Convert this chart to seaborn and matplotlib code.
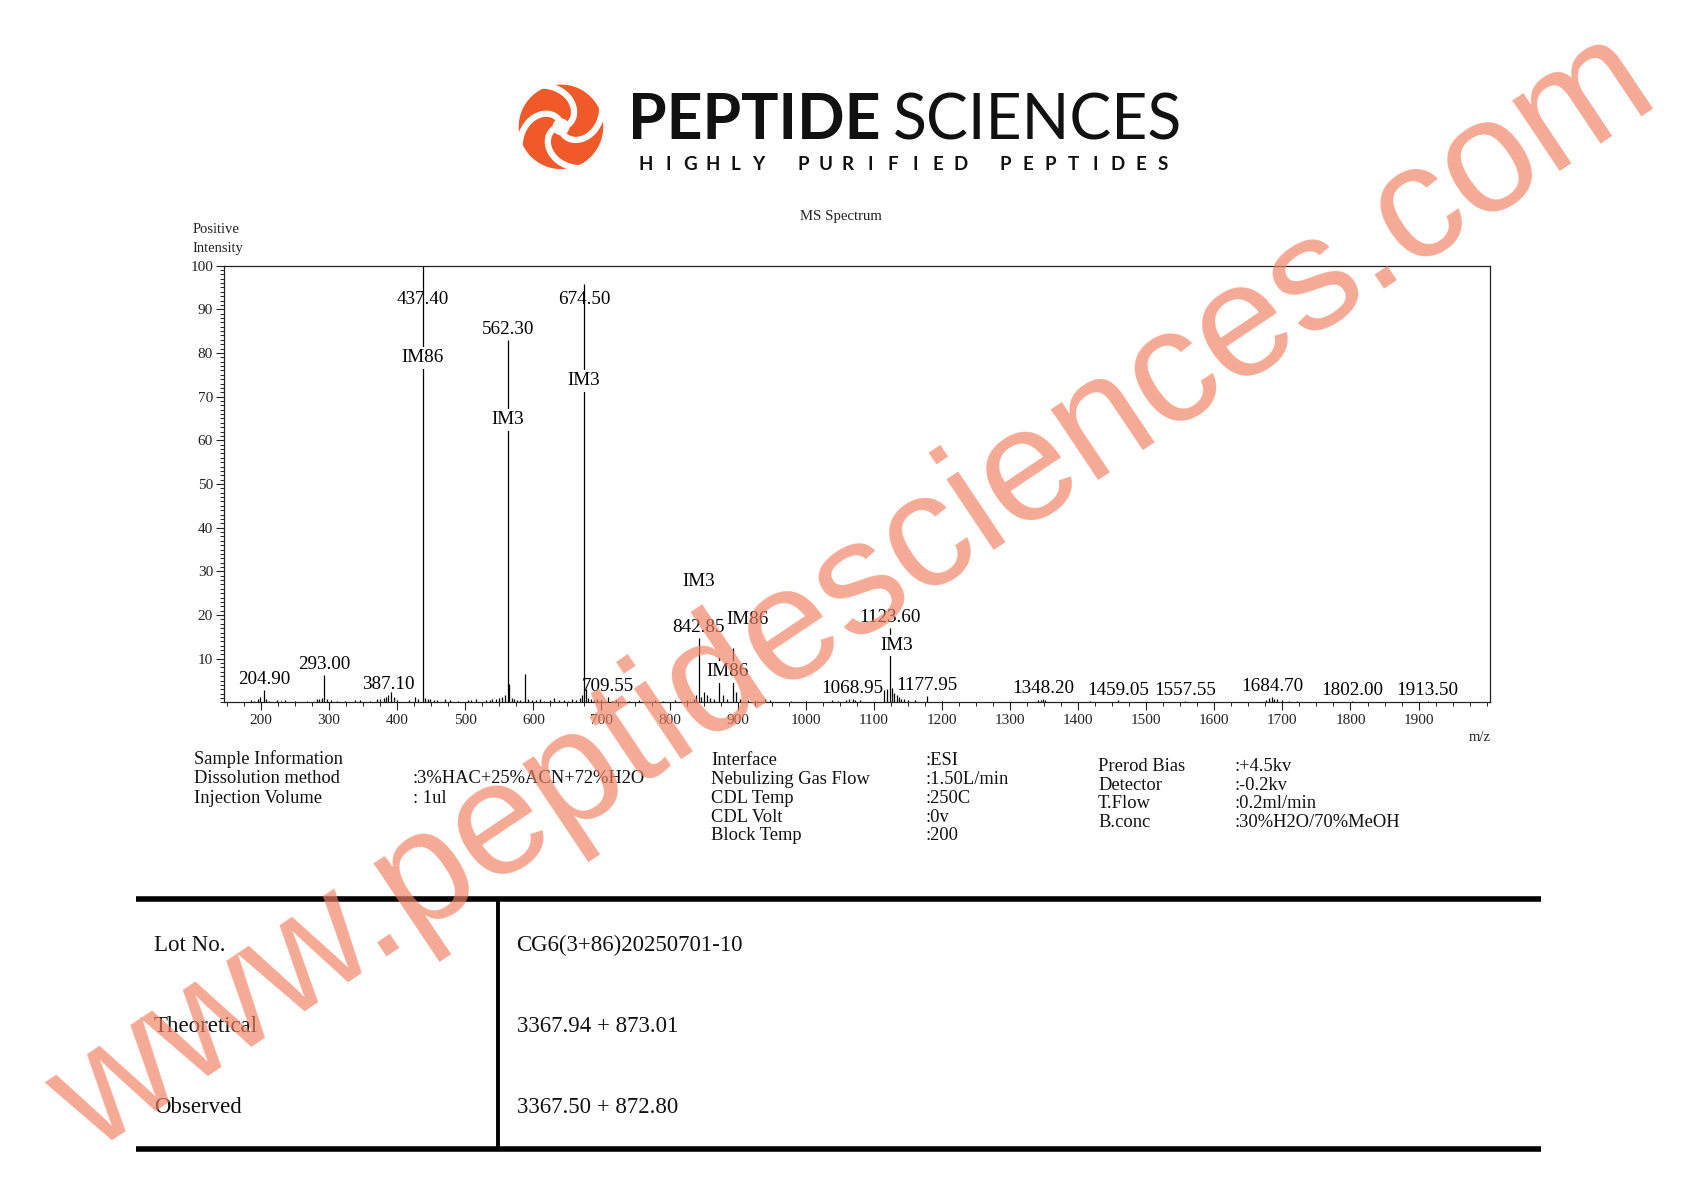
import numpy as np
import pandas as pd
import seaborn as sns
import matplotlib.pyplot as plt
from matplotlib.ticker import MultipleLocator
from matplotlib.patches import Circle
from matplotlib.lines import Line2D

# labelled peaks (m/z, relative intensity)
peak_mz = [204.90, 293.00, 387.10, 437.40, 562.30, 674.50, 709.55, 842.85, 1068.95,
           1123.60, 1177.95, 1348.20, 1459.05, 1557.55, 1684.70, 1802.00, 1913.50]
peak_int = [2.8, 6.3, 1.8, 100.0, 83.0, 95.8, 1.3, 14.7, 0.9,
            17.0, 1.5, 0.9, 0.5, 0.3, 1.2, 0.3, 0.3]

# unlabelled small peaks
minor_mz = [185, 190, 195, 199, 207, 212, 224, 230, 236, 250, 268, 282, 286, 290, 297, 303,
            312, 324, 338, 346, 360, 370, 375, 381, 384, 391, 395, 400, 418, 426, 431, 441,
            445, 449, 454, 458, 470, 477, 490, 504, 509, 516, 531, 536, 540, 545, 550, 554,
            558, 564.5, 568, 572, 576, 581, 587.5, 592, 598, 604, 610, 616, 624, 630, 638,
            645, 651, 657, 663, 668, 671, 677, 680, 684, 689, 694, 700, 715, 722, 740, 755,
            779, 790, 808, 825, 836, 839, 846, 850, 855, 860, 866, 873, 878, 885, 893, 897,
            903, 915, 925, 940, 948, 979, 1000, 1039, 1047, 1059, 1064, 1073, 1080, 1115,
            1119, 1127, 1130, 1134, 1137, 1140, 1145, 1150, 1161, 1200, 1225, 1260, 1341,
            1345, 1352, 1417, 1430, 1500, 1550, 1620, 1676, 1680, 1688, 1692, 1700, 1710,
            1722, 1800]
minor_int = [0.5, 0.4, 0.9, 1.2, 0.8, 0.3, 0.5, 0.4, 0.5, 0.3, 0.3, 0.7, 0.8, 1.0, 0.8, 0.5,
             0.4, 0.4, 0.5, 0.6, 0.3, 0.7, 0.9, 1.0, 1.3, 2.3, 1.2, 0.5, 0.5, 1.3, 0.8, 1.1,
             0.8, 0.7, 0.6, 0.5, 0.9, 0.6, 0.3, 0.6, 0.5, 0.7, 0.5, 0.6, 0.8, 0.7, 1.0, 1.2,
             1.6, 4.3, 1.0, 0.8, 0.6, 0.6, 6.4, 0.8, 0.6, 0.5, 0.7, 0.4, 0.5, 1.0, 0.6,
             0.5, 0.4, 0.7, 0.6, 1.0, 1.6, 3.0, 1.0, 0.8, 0.6, 0.7, 0.5, 0.4, 0.5, 0.3, 0.6,
             0.5, 0.4, 0.5, 0.6, 0.9, 1.7, 1.2, 2.4, 1.6, 1.0, 0.8, 10.5, 1.8, 0.9, 12.5, 2.5,
             0.9, 0.6, 0.4, 0.8, 0.6, 0.4, 0.4, 0.5, 0.4, 0.6, 0.7, 0.6, 0.5, 2.8,
             3.0, 3.2, 2.2, 1.8, 1.2, 0.9, 0.7, 0.5, 0.5, 0.3, 0.2, 0.2, 0.5,
             0.6, 0.5, 0.4, 0.2, 0.2, 0.2, 0.2, 0.6, 1.0, 0.9, 0.7, 0.5, 0.3,
             0.3, 0.2]

# ion annotations
ion_text = ["IM86", "IM3", "IM3", "IM3", "IM86", "IM86", "IM3"]
ion_mz = [437.4, 562.3, 674.5, 842.85, 914.0, 885.0, 1133.0]
ion_y = [78.9, 64.7, 73.6, 27.6, 19.0, 7.0, 13.0]

sample_keys = ["Sample Information", "Dissolution method", "Injection Volume"]
sample_vals = ["", ":3%HAC+25%ACN+72%H2O", ": 1ul"]
source_keys = ["Interface", "Nebulizing Gas Flow", "CDL Temp", "CDL Volt", "Block Temp"]
source_vals = [":ESI", ":1.50L/min", ":250C", ":0v", ":200"]
det_keys = ["Prerod Bias", "Detector", "T.Flow", "B.conc"]
det_vals = [":+4.5kv", ":-0.2kv", ":0.2ml/min", ":30%H2O/70%MeOH"]

table_keys = ["Lot No.", "Theoretical", "Observed"]
table_vals = ["CG6(3+86)20250701-10", "3367.94 + 873.01", "3367.50 + 872.80"]

W, H = 1568.0, 1107.0


def fx(x):
    return x / W


def fy(y):
    return 1 - y / H


sns.set_theme(style="ticks")
plt.rcParams['font.family'] = ['Liberation Serif', 'DejaVu Serif']

fig = plt.figure(figsize=(16.98, 12), dpi=100)
fig.patch.set_facecolor("white")

# ---- spectrum
ax = fig.add_axes([fx(207), fy(648), fx(1376) - fx(207), fy(245) - fy(648)])
spec = pd.DataFrame({"mz": peak_mz + minor_mz, "int": peak_int + minor_int})
ax.vlines(spec["mz"], 0, spec["int"], color="black", lw=0.9, zorder=2)

for m, h in zip(peak_mz, peak_int):
    ax.text(m, min(h + 0.4, 90.3), f"{m:.2f}", ha="center", va="bottom",
            fontsize=13.8, color="black", zorder=3)
for t, m, y in zip(ion_text, ion_mz, ion_y):
    ax.text(m, y, t, ha="center", va="center", fontsize=13.8, color="black", zorder=4,
            bbox=dict(boxstyle="square,pad=0.12", fc="white", ec="none"))

ax.set_xlim(146, 2005)
ax.set_ylim(0, 100)
ax.set_xticks(range(200, 2000, 100))
ax.set_yticks(range(10, 101, 10))
ax.xaxis.set_minor_locator(MultipleLocator(25))
ax.yaxis.set_minor_locator(MultipleLocator(1))
ax.tick_params(which="major", length=6, width=0.8, color="#222222", labelsize=11,
               labelcolor="#222222", pad=2)
ax.tick_params(which="minor", length=3, width=0.7, color="#222222")
for s in ax.spines.values():
    s.set_linewidth(0.9)
    s.set_color("#222222")
ax.grid(False)

fig.text(fx(178), fy(212), "Positive", fontsize=10.5, va="center", ha="left", color="#222222")
fig.text(fx(178), fy(229), "Intensity", fontsize=10.5, va="center", ha="left", color="#222222")
fig.text(fx(777), fy(200), "MS Spectrum", fontsize=10.6, va="center", ha="center", color="#222222")
fig.text(fx(1366), fy(680), "m/z", fontsize=10.5, va="center", ha="center", color="#222222")

# ---- instrument info
for i, (k, v) in enumerate(zip(sample_keys, sample_vals)):
    y = fy(700 + 18.5 * i)
    fig.text(fx(179), y, k, fontsize=13.3, va="center", color="#111111")
    fig.text(fx(381), y, v, fontsize=13.3, va="center", color="#111111")
for i, (k, v) in enumerate(zip(source_keys, source_vals)):
    y = fy(702 + 17.3 * i)
    fig.text(fx(657), y, k, fontsize=13.3, va="center", color="#111111")
    fig.text(fx(855), y, v, fontsize=13.3, va="center", color="#111111")
for i, (k, v) in enumerate(zip(det_keys, det_vals)):
    y = fy(707 + 17.3 * i)
    fig.text(fx(1014), y, k, fontsize=13.3, va="center", color="#111111")
    fig.text(fx(1140), y, v, fontsize=13.3, va="center", color="#111111")

# ---- result table
for yy in (829, 1060):
    fig.add_artist(Line2D([fx(126), fx(1423)], [fy(yy), fy(yy)], transform=fig.transFigure,
                          color="black", lw=4.0, solid_capstyle="butt"))
fig.add_artist(Line2D([fx(460), fx(460)], [fy(829), fy(1060)], transform=fig.transFigure,
                      color="black", lw=2.8, solid_capstyle="butt"))
for i, (k, v) in enumerate(zip(table_keys, table_vals)):
    y = fy(872 + 75 * i)
    fig.text(fx(142), y, k, fontsize=16.5, va="center", color="#111111")
    fig.text(fx(477), y, v, fontsize=16.5, va="center", color="#111111")

# ---- logo
orange = "#F05A28"
r_px = 41
lax = fig.add_axes([fx(518 - r_px), fy(117 + r_px), fx(2 * r_px), 2 * r_px / H])
lax.set_xlim(-1.05, 1.05)
lax.set_ylim(-1.05, 1.05)
lax.set_aspect("equal")
lax.axis("off")
lax.add_patch(Circle((0, 0), 1.0, color=orange, lw=0))
rr = np.linspace(0.18, 1.15, 60)
for k in range(4):
    th = k * np.pi / 2 + 0.3 + 1.9 * (rr - 0.18)
    lax.plot(rr * np.cos(th), rr * np.sin(th), color="white", lw=4.5, solid_capstyle="round")
lax.add_patch(Circle((0, 0), 0.2, color="white", lw=0))

t1 = fig.text(fx(580), fy(112), "PEPTIDE", fontsize=45, fontweight="bold",
              family=["Lato", "DejaVu Sans"], color="#111111", va="center", ha="left")
fig.canvas.draw()
bb = t1.get_window_extent()
fig.text(bb.x1 / fig.bbox.width + fx(11), fy(112), "SCIENCES", fontsize=45,
         family=["Lato", "DejaVu Sans"], color="#111111", va="center", ha="left")

tag = "HIGHLY PURIFIED PEPTIDES"
pitch = (1074 - 596) / 23.0
for i, ch in enumerate(tag):
    if ch != " ":
        fig.text(fx(596 + pitch * i), fy(152), ch, fontsize=13.5, fontweight="bold",
                 family=["Lato", "DejaVu Sans"], color="#111111", ha="center", va="center")

# ---- watermark
fig.text(fx(789), fy(548), "www.peptidesciences.com", rotation=33.8, rotation_mode="anchor",
         fontsize=116, family=["Liberation Sans", "DejaVu Sans"], color="#F18162", alpha=0.68,
         ha="center", va="center", zorder=20)

fig.savefig("out.png", dpi=100, facecolor="white")
